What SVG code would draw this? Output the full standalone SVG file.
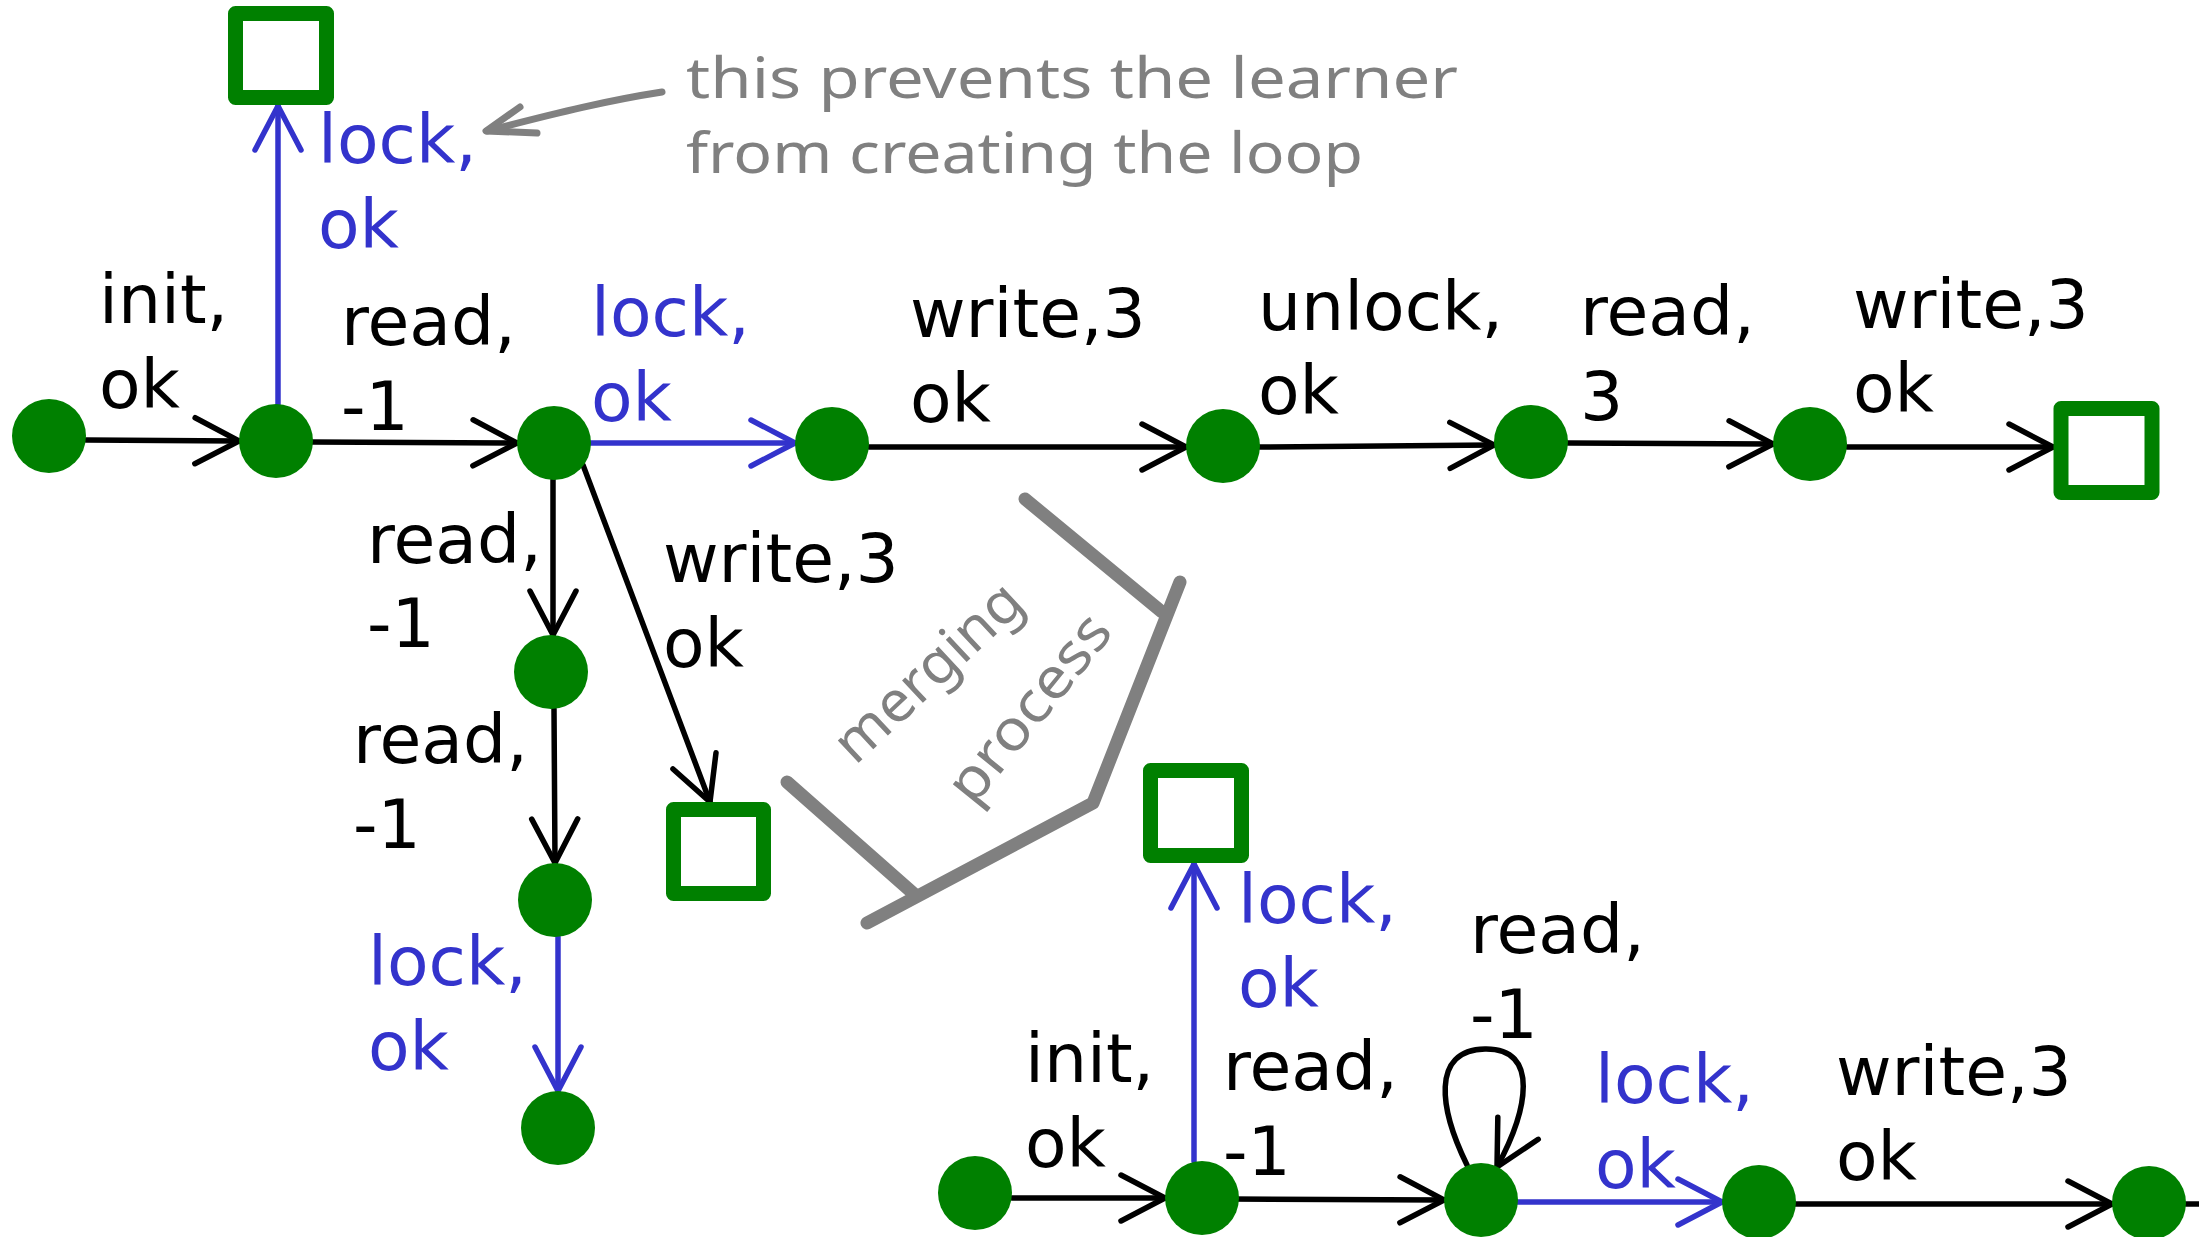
<svg xmlns="http://www.w3.org/2000/svg" width="2199" height="1237" viewBox="0 0 2199 1237">
  <style>
    .st { fill: #008000; }
    .fin { fill: #ffffff; stroke: #008000; stroke-width: 15; stroke-linejoin: round; }
    .e { fill: none; stroke: #000000; stroke-width: 5.5; stroke-linecap: round; marker-end: url(#ah); }
    .eb { fill: none; stroke: #3333cc; stroke-width: 5.5; stroke-linecap: round; marker-end: url(#ahb); }
    .lbl { font-family: "DejaVu Sans", "Liberation Sans", sans-serif; font-size: 68px; fill: #000000; }
    .lbl.b { fill: #3333cc; }
    .note { font-family: "Noto Sans", "DejaVu Sans", sans-serif; font-size: 57px; fill: #808080; }
    .gray { fill: none; stroke: #808080; stroke-linecap: round; stroke-linejoin: round; }
  </style>
  <defs>
    <marker id="ah" markerUnits="userSpaceOnUse" viewBox="-50 -30 60 60" markerWidth="60" markerHeight="60" refX="0" refY="0" orient="auto" overflow="visible">
      <path d="M-44,-23 L0,0 L-44,23" fill="none" stroke="#000000" stroke-width="5.5" stroke-linecap="round" stroke-linejoin="round"/>
    </marker>
    <marker id="ahb" markerUnits="userSpaceOnUse" viewBox="-50 -30 60 60" markerWidth="60" markerHeight="60" refX="0" refY="0" orient="auto" overflow="visible">
      <path d="M-44,-23 L0,0 L-44,23" fill="none" stroke="#3333cc" stroke-width="5.5" stroke-linecap="round" stroke-linejoin="round"/>
    </marker>
  </defs>

  <rect width="2199" height="1237" fill="#ffffff"/>

  <!-- transitions -->
  <g id="connectors">
    <!-- upper automaton -->
    <line class="e" x1="86" y1="440" x2="239" y2="441"/>
    <line class="eb" x1="278" y1="404" x2="278" y2="106"/>
    <line class="e" x1="312" y1="442" x2="517" y2="443"/>
    <line class="eb" x1="590" y1="443" x2="795" y2="443"/>
    <line class="e" x1="869" y1="447" x2="1186" y2="447"/>
    <line class="e" x1="1260" y1="447" x2="1494" y2="445"/>
    <line class="e" x1="1568" y1="443" x2="1773" y2="444"/>
    <line class="e" x1="1847" y1="447" x2="2053" y2="447"/>
    <line class="e" x1="553" y1="480" x2="553" y2="635"/>
    <line class="e" x1="554" y1="709" x2="555" y2="863"/>
    <line class="e" x1="583" y1="465" x2="710" y2="802"/>
    <line class="eb" x1="558" y1="937" x2="558" y2="1091"/>
    <!-- lower automaton -->
    <line class="e" x1="1012" y1="1198" x2="1165" y2="1198"/>
    <line class="eb" x1="1194" y1="1161" x2="1194" y2="864"/>
    <line class="e" x1="1231" y1="1199" x2="1444" y2="1200"/>
    <path class="e" d="M1467,1165 C1440,1110 1430,1050 1485,1049 C1540,1048 1528,1110 1497,1167"/>
    <line class="eb" x1="1517" y1="1202" x2="1722" y2="1202"/>
    <line class="e" x1="1795" y1="1204" x2="2112" y2="1204"/>
    <line class="e" x1="2186" y1="1204" x2="2205" y2="1204" style="marker-end:none"/>
  </g>

  <!-- states of the upper automaton -->
  <g id="n_a"><circle class="st" cx="49" cy="436" r="37"/></g>
  <g id="n_b"><circle class="st" cx="276" cy="441" r="37"/></g>
  <g id="n_b_lock"><rect class="fin" x="235.5" y="13.5" width="91" height="84"/></g>
  <g id="n_c"><circle class="st" cx="554" cy="443" r="37"/></g>
  <g id="n_d"><circle class="st" cx="832" cy="444" r="37"/></g>
  <g id="n_e"><circle class="st" cx="1223" cy="446" r="37"/></g>
  <g id="n_f"><circle class="st" cx="1531" cy="442" r="37"/></g>
  <g id="n_g"><circle class="st" cx="1810" cy="444" r="37"/></g>
  <g id="n_h"><rect class="fin" x="2061" y="408.5" width="91" height="84"/></g>
  <g id="n_i"><circle class="st" cx="551" cy="672" r="37"/></g>
  <g id="n_j"><circle class="st" cx="555" cy="900" r="37"/></g>
  <g id="n_k"><circle class="st" cx="558" cy="1128" r="37"/></g>
  <g id="n_c_write"><rect class="fin" x="673.5" y="809.5" width="90" height="84"/></g>

  <!-- states of the lower automaton -->
  <g id="m_l"><circle class="st" cx="975" cy="1193" r="37"/></g>
  <g id="m_m"><circle class="st" cx="1202" cy="1198" r="37"/></g>
  <g id="m_q"><rect class="fin" x="1150.5" y="770.5" width="91" height="85"/></g>
  <g id="m_n"><circle class="st" cx="1481" cy="1200" r="37"/></g>
  <g id="m_o"><circle class="st" cx="1759" cy="1202" r="37"/></g>
  <g id="m_p"><circle class="st" cx="2149" cy="1203" r="37"/></g>

  <!-- transition labels -->
  <g id="labels">
    <text class="lbl" x="99" y="323">init,<tspan x="99" dy="85">ok</tspan></text>
    <text class="lbl b" x="318" y="163">lock,<tspan x="318" dy="85">ok</tspan></text>
    <text class="lbl" x="341" y="345">read,<tspan x="341" dy="85">-1</tspan></text>
    <text class="lbl b" x="591" y="336">lock,<tspan x="591" dy="85">ok</tspan></text>
    <text class="lbl" x="910" y="337">write,3<tspan x="910" dy="85">ok</tspan></text>
    <text class="lbl" x="1258" y="330">unlock,<tspan x="1258" dy="84">ok</tspan></text>
    <text class="lbl" x="1580" y="335">read,<tspan x="1580" dy="85">3</tspan></text>
    <text class="lbl" x="1853" y="328">write,3<tspan x="1853" dy="84">ok</tspan></text>
    <text class="lbl" x="367" y="563">read,<tspan x="367" dy="84">-1</tspan></text>
    <text class="lbl" x="663" y="582">write,3<tspan x="663" dy="85">ok</tspan></text>
    <text class="lbl" x="353" y="763">read,<tspan x="353" dy="85">-1</tspan></text>
    <text class="lbl b" x="368" y="985">lock,<tspan x="368" dy="85">ok</tspan></text>
    <text class="lbl b" x="1238" y="923">lock,<tspan x="1238" dy="84">ok</tspan></text>
    <text class="lbl" x="1025" y="1082">init,<tspan x="1025" dy="85">ok</tspan></text>
    <text class="lbl" x="1223" y="1090">read,<tspan x="1223" dy="85">-1</tspan></text>
    <text class="lbl" x="1470" y="953">read,<tspan x="1470" dy="85">-1</tspan></text>
    <text class="lbl b" x="1595" y="1103">lock,<tspan x="1595" dy="85">ok</tspan></text>
    <text class="lbl" x="1836" y="1095">write,3<tspan x="1836" dy="85">ok</tspan></text>
  </g>

  <!-- hand-written annotation with its pointer -->
  <g id="annotation">
    <path class="gray" stroke-width="7" d="M662,92 C610,100 560,112 487,131"/>
    <path class="gray" stroke-width="7" d="M520,107 L486,131 L537,133"/>
    <text class="note" x="686" y="98" textLength="772" lengthAdjust="spacingAndGlyphs">this prevents the learner</text>
    <text class="note" x="686" y="173" textLength="677" lengthAdjust="spacingAndGlyphs">from creating the loop</text>
  </g>

  <!-- merging bracket -->
  <g id="merge">
    <polyline class="gray" stroke-width="13" points="1180,582 1093,803 867,923"/>
    <line class="gray" stroke-width="13" x1="1025" y1="499" x2="1162" y2="612"/>
    <line class="gray" stroke-width="13" x1="787" y1="782" x2="914" y2="894"/>
    <text class="note" text-anchor="middle" transform="translate(941,686) rotate(-43)" textLength="235" lengthAdjust="spacingAndGlyphs">merging</text>
    <text class="note" text-anchor="middle" transform="translate(1044,720) rotate(-51)" textLength="225" lengthAdjust="spacingAndGlyphs">process</text>
  </g>
</svg>
